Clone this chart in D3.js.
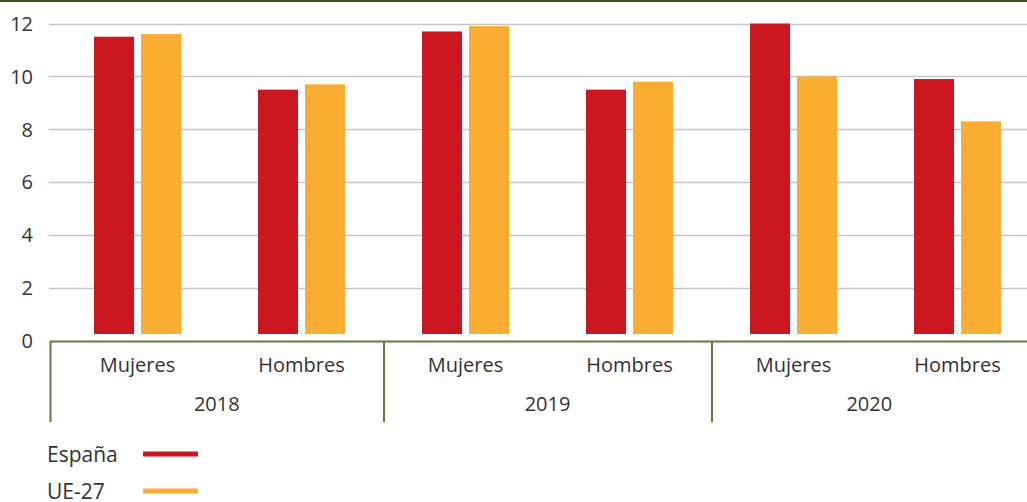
<!DOCTYPE html>
<html><head><meta charset="utf-8">
<script src="https://cdn.jsdelivr.net/npm/d3@7"></script>
<style>
body{margin:0;background:#fff;}
text{font-family:"Open Sans",Lato,sans-serif;fill:#333;}
</style></head>
<body>
<svg id="c" width="1027" height="502"></svg>
<script>
const years = ["2018","2019","2020"];
const sexes = ["Mujeres","Hombres"];
const seriesNames = ["España","UE-27"];
const espana = [11.5, 9.5, 11.7, 9.5, 12.0, 9.9];
const ue27 = [11.6, 9.7, 11.9, 9.8, 10.0, 8.3];
const yTicks = [0,2,4,6,8,10,12];
const colors = ["#cc1720","#fbac33"];

const svg = d3.select("#c");
const W = 1027;
const plotLeft = 50, plotTop = 23.5, plotBottom = 341;
const cats = [];
years.forEach(y => sexes.forEach(s => cats.push(y + "|" + s)));

const x = d3.scaleBand().domain(cats).range([55.5, 55.5 + 164*6]).padding(0);
const y = d3.scaleLinear().domain([0,12]).range([plotBottom, plotTop]);
const inner = d3.scaleBand().domain(seriesNames).range([x.bandwidth()/2 - 43.5, x.bandwidth()/2 + 43.5]).paddingInner(7/47);

// top border
svg.append("rect").attr("x",0).attr("y",0).attr("width",W).attr("height",2).attr("fill","#3b5320");

// grid
svg.append("g").selectAll("line").data(yTicks.filter(d=>d>0)).join("line")
  .attr("x1",plotLeft-1).attr("x2",W).attr("y1",d=>Math.round(y(d))+0.5).attr("y2",d=>Math.round(y(d))+0.5)
  .attr("stroke","#c6c6c6").attr("stroke-width",1.3);

// y labels
svg.append("g").selectAll("text").data(yTicks).join("text")
  .attr("x",33).attr("y",d=>y(d)).attr("dy","0.36em").attr("text-anchor","end")
  .attr("font-size",20).text(d=>d);

// bars
const data = [espana, ue27];
const baseGap = 7;
seriesNames.forEach((s,i) => {
  svg.append("g").selectAll("rect").data(data[i]).join("rect")
    .attr("x",(d,j)=>x(cats[j]) + inner(s))
    .attr("width",inner.bandwidth())
    .attr("y",d=>y(d))
    .attr("height",d=>y(0)-baseGap-y(d))
    .attr("fill",colors[i]);
});

// axis line
svg.append("line").attr("x1",plotLeft).attr("x2",W).attr("y1",plotBottom+0.5).attr("y2",plotBottom+0.5)
  .attr("stroke","#5b7f3e").attr("stroke-width",2);

// group separators
years.forEach((yr,gi) => {
  const xs = gi===0 ? plotLeft : x(yr+"|"+sexes[0]);
  svg.append("line").attr("x1",xs+0.5).attr("x2",xs+0.5).attr("y1",plotBottom).attr("y2",422)
    .attr("stroke","#5b7f3e").attr("stroke-width",2);
});

// category labels
svg.append("g").selectAll("text").data(cats).join("text")
  .attr("x",d=>x(d)+x.bandwidth()/2).attr("y",372).attr("text-anchor","middle")
  .attr("font-size",20).text(d=>d.split("|")[1]);

// year labels
svg.append("g").selectAll("text").data(years).join("text")
  .attr("x",(yr,gi)=>{
    const a = gi===0 ? plotLeft : x(yr+"|"+sexes[0]);
    const b = gi===years.length-1 ? W : x(years[gi+1]+"|"+sexes[0]);
    return (a+b)/2;
  })
  .attr("y",411).attr("text-anchor","middle").attr("font-size",20).text(d=>d);

// legend
seriesNames.forEach((s,i) => {
  const ly = 454 + i*37;
  svg.append("text").attr("x",47).attr("y",ly).attr("dy","0.36em").attr("font-size",21).text(s);
  svg.append("line").attr("x1",143).attr("x2",198).attr("y1",ly).attr("y2",ly)
    .attr("stroke",colors[i]).attr("stroke-width",5);
});
</script>
</body></html>
